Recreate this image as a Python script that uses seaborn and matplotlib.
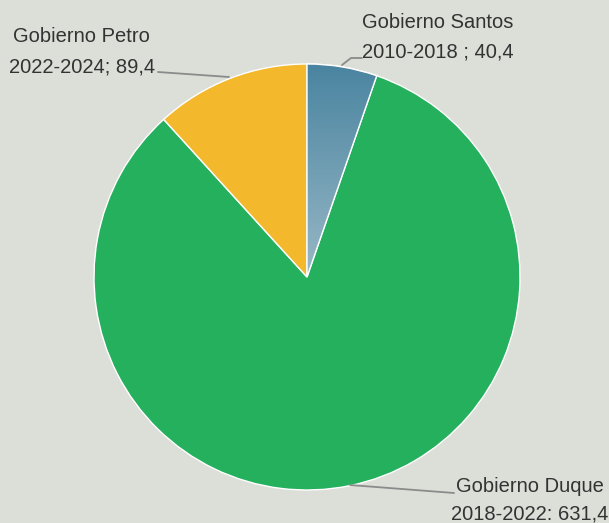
import numpy as np
import matplotlib
matplotlib.use("Agg")
import matplotlib.pyplot as plt
import seaborn as sns
from matplotlib import font_manager
from matplotlib.colors import LinearSegmentedColormap

labels = ["Gobierno Santos\n2010-2018 ; 40,4", "Gobierno Duque\n2018-2022: 631,4", "Gobierno Petro\n2022-2024; 89,4"]
values = [40.4, 631.4, 89.4]
colors = ["#5b93ab", "#25b05e", "#f3b82c"]

sns.set_theme(style="white")
names = {f.name for f in font_manager.fontManager.ttflist}
fam = "Liberation Sans Narrow" if "Liberation Sans Narrow" in names else "Liberation Sans"
plt.rcParams["font.family"] = [fam, "DejaVu Sans"]

bg = "#dcded8"
fig = plt.figure(figsize=(6.09, 5.23), dpi=100, facecolor=bg)
ax = fig.add_axes([0, 0, 1, 1])
ax.set_facecolor(bg)
R = 213.0
cx, cy = 307.0, 277.0
W, H = 609, 523

def P(px, py):
    return ((px - cx) / R, (cy - py) / R)

wedges, _ = ax.pie(values, colors=colors, startangle=90, counterclock=False,
                   radius=1.0, center=(0, 0),
                   wedgeprops=dict(edgecolor="white", linewidth=1.0))
ax.set_xlim(-cx / R, (W - cx) / R)
ax.set_ylim(-(H - cy) / R, cy / R)
ax.set_aspect("auto")
ax.axis("off")

# gradient on the Santos wedge
cmap = LinearSegmentedColormap.from_list("g", ["#4a84a0", "#98b8c6"])
grad = np.linspace(0, 1, 256).reshape(-1, 1)
im = ax.imshow(grad, cmap=cmap, extent=(0, 0.4, 0, 1.0), origin="upper",
               aspect="auto", zorder=wedges[0].get_zorder() + 0.1)
im.set_clip_path(wedges[0])
w0 = plt.matplotlib.patches.Wedge((0, 0), 1.0, 90 - values[0] / sum(values) * 360, 90,
                                 facecolor="none", edgecolor="white", linewidth=1.0,
                                 zorder=wedges[0].get_zorder() + 0.2)
ax.add_patch(w0)
ax.set_xlim(-cx / R, (W - cx) / R)
ax.set_ylim(-(H - cy) / R, cy / R)

tc = "#333333"
lc = "#8a8c8c"
fs = 14.5
# Santos
x0, y0 = P(438, 23); ax.text(x0, y0, "Gobierno Santos", ha="center", va="center", fontsize=fs, color=tc)
x0, y0 = P(438, 52); ax.text(x0, y0, "2010-2018 ; 40,4", ha="center", va="center", fontsize=fs, color=tc)
xs, ys = zip(P(342, 65), P(351, 58), P(362, 58))
ax.plot(xs, ys, color=lc, lw=1.3)
# Petro
x0, y0 = P(81, 37); ax.text(x0, y0, "Gobierno Petro", ha="center", va="center", fontsize=fs, color=tc)
x0, y0 = P(82, 67); ax.text(x0, y0, "2022-2024; 89,4", ha="center", va="center", fontsize=fs, color=tc)
xs, ys = zip(P(158, 72), P(229, 77))
ax.plot(xs, ys, color=lc, lw=1.3)
# Duque
x0, y0 = P(530, 487); ax.text(x0, y0, "Gobierno Duque", ha="center", va="center", fontsize=fs, color=tc)
x0, y0 = P(530, 514); ax.text(x0, y0, "2018-2022: 631,4", ha="center", va="center", fontsize=fs, color=tc)
xs, ys = zip(P(350, 485), P(454, 493))
ax.plot(xs, ys, color=lc, lw=1.3)

fig.savefig("out.png", dpi=100, facecolor=bg)
